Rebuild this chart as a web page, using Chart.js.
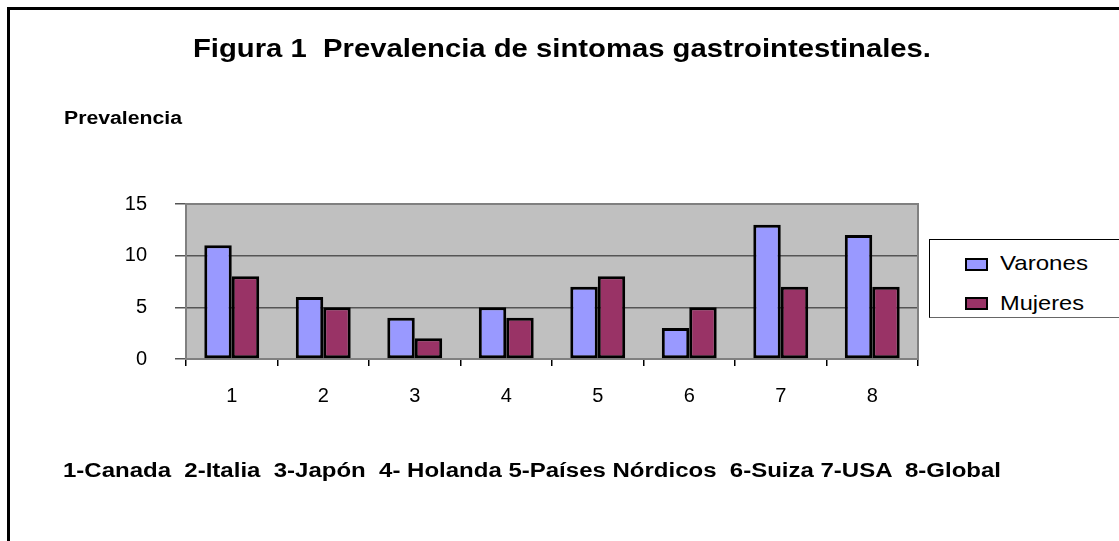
<!DOCTYPE html>
<html>
<head>
<meta charset="utf-8">
<script src="https://cdn.jsdelivr.net/npm/chart.js@4.4.1/dist/chart.umd.min.js"></script>
<style>
  html, body { margin:0; padding:0; background:#fff; width:1119px; height:541px; overflow:hidden; }
  #frame { position:absolute; left:7px; top:7px; width:1300px; height:700px; border:3px solid #000; box-sizing:border-box; }
  canvas { position:absolute; left:0; top:0; }
  .txt { position:absolute; white-space:pre; font-family:'Liberation Sans', Arial, Helvetica, sans-serif; line-height:1; transform-origin:0 0; color:#000; }
  .b { font-weight:bold; }
  #legend { position:absolute; left:929px; top:239px; width:260px; height:79px; border:1px solid #000; border-bottom-color:#666; background:#fff; box-sizing:border-box; }
  .sw { position:absolute; width:23px; height:13px; border:2px solid #000; box-sizing:border-box; }
</style>
</head>
<body>
<div id="frame"></div>
<canvas id="c" width="1119" height="541"></canvas>
<div class="txt b" id="title" style="font-size:26px; left:193px; top:35px;" data-w="738">Figura 1  Prevalencia de sintomas gastrointestinales.</div>
<div class="txt b" id="ylab" style="font-size:18px; left:64px; top:109px;" data-w="118">Prevalencia</div>
<div class="txt b" id="note" style="font-size:20px; left:63px; top:460px;" data-w="938"></div>
<div id="legend"></div>
<script>
const categories = ["1", "2", "3", "4", "5", "6", "7", "8"];
const varones = [11, 6, 4, 5, 7, 3, 13, 12];
const mujeres = [8, 5, 2, 4, 8, 5, 7, 7];
const seriesNames = ["Varones", "Mujeres"];
const seriesColors = ["#9999FF", "#993366"];
const yTicks = [0, 5, 10, 15];
const countryNote = "1-Canada  2-Italia  3-Japón  4- Holanda 5-Países Nórdicos  6-Suiza 7-USA  8-Global";

document.getElementById('note').textContent = countryNote;

// legend
const legend = document.getElementById('legend');
const legendTextWidths = [88, 84];
seriesNames.forEach((name, i) => {
  const sw = document.createElement('div');
  sw.className = 'sw';
  sw.style.left = (964 - 929) + 'px';
  sw.style.top = (i === 0 ? 257 - 239 : 296 - 239) + 'px';
  sw.style.background = seriesColors[i];
  legend.appendChild(sw);
  const t = document.createElement('div');
  t.className = 'txt';
  t.style.fontSize = '21px';
  t.style.left = (999 - 929) + 'px';
  t.style.top = (i === 0 ? 269 - 239 - 18 : 309 - 239 - 18) + 'px';
  t.textContent = name;
  t.dataset.w = legendTextWidths[i];
  legend.appendChild(t);
});

const plotBg = {
  id: 'plotBg',
  beforeDraw(chart) {
    const a = chart.chartArea, ctx = chart.ctx;
    ctx.save();
    ctx.fillStyle = '#C0C0C0';
    ctx.fillRect(a.left, a.top, a.right - a.left, a.bottom - a.top);
    ctx.restore();
  },
  beforeDatasetsDraw(chart) {
    const a = chart.chartArea, ctx = chart.ctx;
    ctx.save();
    ctx.strokeStyle = '#808080';
    ctx.lineWidth = 2;
    ctx.strokeRect(a.left, a.top, a.right - a.left, a.bottom - a.top);
    ctx.restore();
  }
};

new Chart(document.getElementById('c'), {
  type: 'bar',
  data: {
    labels: categories,
    datasets: [
      { label: seriesNames[0], data: varones, backgroundColor: seriesColors[0], borderColor: '#000', borderWidth: 3, borderSkipped: false, categoryPercentage: 0.6, barPercentage: 1.0 },
      { label: seriesNames[1], data: mujeres, backgroundColor: seriesColors[1], borderColor: '#000', borderWidth: 3, borderSkipped: false, categoryPercentage: 0.6, barPercentage: 1.0 }
    ]
  },
  options: {
    responsive: false,
    animation: false,
    layout: { padding: { left: 0, top: 204, right: 201, bottom: 132 } },
    plugins: { legend: { display: false }, title: { display: false }, tooltip: { enabled: false } },
    scales: {
      x: {
        afterFit(s) { s.height = 50; },
        grid: { display: true, drawOnChartArea: false, color: '#000', lineWidth: 1.5, tickLength: 7, offset: true },
        border: { display: false },
        ticks: { color: '#000', padding: 18, font: { family: "'Liberation Sans', Arial, sans-serif", size: 20 } }
      },
      y: {
        min: 0, max: 15,
        afterFit(s) { s.width = 186; },
        afterBuildTicks(s) { s.ticks = yTicks.map(v => ({ value: v })); },
        grid: { color: '#555', lineWidth: 1.5, tickLength: 11 },
        border: { display: false },
        ticks: { color: '#000', padding: 28, font: { family: "'Liberation Sans', Arial, sans-serif", size: 20 } }
      }
    }
  },
  plugins: [plotBg]
});

// stretch texts horizontally to match measured widths
document.querySelectorAll('[data-w]').forEach(el => {
  const w = el.getBoundingClientRect().width;
  const target = parseFloat(el.dataset.w);
  if (w > 0) el.style.transform = 'scaleX(' + (target / w) + ')';
});
</script>
</body>
</html>
